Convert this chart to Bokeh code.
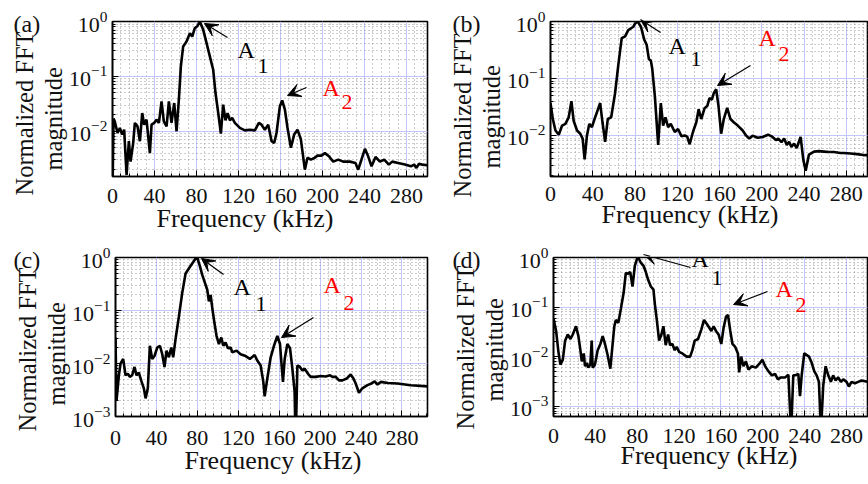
from bokeh.plotting import figure
from bokeh.layouts import column, row
from bokeh.models import Range1d, FixedTicker, Label, Arrow, VeeHead, Title
from bokeh.embed import file_html
from bokeh.resources import INLINE

# ---------------- data ----------------
FREQ_A = [0, 1.0, 2.2, 4.8, 7.0, 9.2, 11.1, 13.4, 15.6, 17.2, 19.7, 21.3, 23.8, 26.1, 28.3, 30.2, 32.4,
          35.6, 37.2, 39.7, 41.9, 44.2, 46.7, 48.9, 51.5, 53.7, 56.2, 58.8, 61.0, 63.2, 65.1, 67.3, 70.5,
          73.7, 75.9, 78.4, 81.0, 83.2, 86.4, 89.6, 92.7, 95.9, 98.1, 100.7, 103.2, 105.4, 107.6, 109.6,
          111.8, 114.0, 116.5, 121.3, 126.1, 130.8, 135.6, 139.4, 141.9, 145.1, 148.3, 151.5, 154.0,
          156.2, 159.4, 161.6, 164.2, 166.7, 169.9, 173.0, 176.2, 179.4, 183.2, 185.7, 188.9, 192.7,
          195.2, 199.0, 202.3, 206.1, 210.2, 215.0, 219.7, 226.1, 231.4, 234.0, 237.0, 240.4, 243.5,
          246.7, 250.5, 254.7, 258.8, 263.2, 266.4, 272.1, 278.5, 284.2, 287.3, 289.5, 291.8, 295.0, 300]
MAG_A = [0.0008, 0.017, 0.015, 0.0093, 0.0115, 0.0087, 0.0107, 0.0016, 0.0066, 0.0028, 0.0061, 0.0142,
         0.0123, 0.0066, 0.0215, 0.0132, 0.0163, 0.0040, 0.0132, 0.0142, 0.0163, 0.0142, 0.035, 0.0152,
         0.0123, 0.035, 0.0142, 0.0327, 0.0100, 0.0376, 0.152, 0.351, 0.432, 0.612, 0.533, 0.755, 0.83,
         1.0, 0.705, 0.403, 0.231, 0.132, 0.0498, 0.0215, 0.0091, 0.0305, 0.0158, 0.0215, 0.0158, 0.0175,
         0.0142, 0.0115, 0.0104, 0.0107, 0.0104, 0.0142, 0.0132, 0.0107, 0.0132, 0.0066, 0.0061, 0.0093,
         0.0285, 0.0366, 0.0247, 0.0115, 0.0050, 0.0087, 0.0107, 0.0071, 0.0020, 0.0033, 0.00305, 0.0033,
         0.0036, 0.0036, 0.0040, 0.0035, 0.0028, 0.00305, 0.0028, 0.0028, 0.00265, 0.0020, 0.0030,
         0.0048, 0.0035, 0.0023, 0.0034, 0.0028, 0.00305, 0.00247, 0.0028, 0.00265, 0.00247, 0.0023,
         0.00247, 0.00215, 0.00255, 0.00247, 0.0024]

FREQ_B = [0, 2.2, 4.7, 7.8, 11.0, 14.1, 17.2, 19.8, 21.9, 25.1, 28.2, 30.4, 32.3, 34.5, 36.7, 39.2, 41.7,
          44.9, 47.0, 49.2, 51.7, 54.2, 57.4, 61.1, 64.3, 67.4, 70.6, 73.7, 76.2, 78.4, 80.0, 82.5, 85.6,
          88.7, 91.0, 93.1, 95.0, 96.3, 98.8, 101.9, 104.4, 106.6, 108.8, 111.3, 113.8, 117.6, 120.7,
          123.9, 127.0, 129.5, 131.7, 134.8, 138.0, 140.2, 142.7, 145.8, 148.3, 150.5, 152.7, 154.5,
          156.8, 159.0, 161.5, 164.0, 167.2, 170.3, 173.4, 177.2, 181.9, 185.0, 188.1, 191.3, 196.0,
          200.7, 206.0, 210.1, 213.3, 215.5, 218.6, 221.1, 223.6, 225.8, 228.0, 230.5, 233.0, 236.7,
          239.2, 241.5, 244.6, 249.4, 254.0, 258.8, 263.4, 268.1, 274.4, 277.6, 283.8, 290.1, 297.9, 300]
MAG_B = [0.037, 0.0194, 0.0122, 0.0103, 0.0149, 0.0159, 0.0207, 0.0398, 0.0181, 0.0122, 0.0107, 0.0088,
         0.0038, 0.0100, 0.0159, 0.0140, 0.0194, 0.0287, 0.037, 0.017, 0.0077, 0.0194, 0.0207, 0.055,
         0.18, 0.51, 0.55, 0.71, 0.76, 0.81, 0.92, 1.0, 0.81, 0.48, 0.39, 0.22, 0.204, 0.148, 0.048,
         0.0068, 0.037, 0.0149, 0.0207, 0.014, 0.0159, 0.0115, 0.013, 0.0097, 0.0100, 0.0094, 0.0070,
         0.0115, 0.0170, 0.0287, 0.0194, 0.030, 0.0327, 0.045, 0.0425, 0.055, 0.0645, 0.0327, 0.0107,
         0.0194, 0.0306, 0.0194, 0.017, 0.0149, 0.0122, 0.0100, 0.0088, 0.0099, 0.0091, 0.0094, 0.0103,
         0.0094, 0.0083, 0.0088, 0.0076, 0.0088, 0.0068, 0.0077, 0.0063, 0.0072, 0.0060, 0.0094, 0.0038,
         0.0024, 0.0046, 0.0052, 0.0053, 0.0052, 0.0051, 0.0051, 0.0049, 0.0049, 0.0048, 0.0047, 0.0045,
         0.0045]

FREQ_C = [0, 1.0, 3.3, 4.9, 7.5, 9.8, 12.1, 14.0, 16.3, 18.6, 20.5, 22.8, 25.1, 27.7, 29.4, 31.6, 33.6,
          35.9, 38.2, 40.8, 43.4, 45.7, 47.9, 49.9, 52.2, 54.5, 56.4, 58.7, 62.0, 65.2, 68.5, 71.7, 75.0,
          78.3, 79.9, 82.5, 84.8, 87.1, 89.7, 91.3, 93.0, 94.6, 96.2, 98.8, 101.1, 103.4, 105.4, 107.6,
          109.9, 112.5, 114.2, 118.4, 122.3, 127.2, 131.4, 136.0, 138.6, 141.9, 144.5, 145.8, 148.4,
          151.7, 154.9, 158.2, 160.8, 162.4, 163.7, 165.4, 168.0, 170.6, 172.9, 175.1, 176.1, 177.8,
          180.3, 182.7, 184.9, 188.2, 190.8, 195.7, 200.6, 205.5, 209.7, 212.0, 215.3, 218.5, 221.8,
          226.0, 229.9, 232.6, 234.8, 238.0, 241.3, 246.3, 250.2, 253.4, 256.1, 259.3, 262.5, 266.4,
          275.6, 288.6, 305]
MAG_C = [0.031, 0.0020, 0.006, 0.0099, 0.0122, 0.006, 0.0064, 0.0056, 0.006, 0.0086, 0.006, 0.0067,
         0.0048, 0.0034, 0.0022, 0.0034, 0.0216, 0.0122, 0.014, 0.020, 0.0216, 0.015, 0.0086, 0.0175,
         0.0131, 0.020, 0.0131, 0.0288, 0.078, 0.213, 0.50, 0.62, 0.77, 0.96, 1.0, 0.69, 0.47, 0.347,
         0.246, 0.149, 0.196, 0.112, 0.068, 0.033, 0.0233, 0.031, 0.0216, 0.025, 0.0194, 0.020, 0.0163,
         0.0175, 0.015, 0.0138, 0.0122, 0.0145, 0.0114, 0.0092, 0.0045, 0.0024, 0.0052, 0.0131, 0.0216,
         0.033, 0.0233, 0.0092, 0.0045, 0.0122, 0.0233, 0.0194, 0.008, 0.0029, 0.0003, 0.0092, 0.0086,
         0.0074, 0.008, 0.0064, 0.0056, 0.0056, 0.0058, 0.0057, 0.006, 0.0056, 0.0056, 0.0048, 0.0048,
         0.0052, 0.0062, 0.0052, 0.0042, 0.0028, 0.0034, 0.0039, 0.0042, 0.0046, 0.0040, 0.0045, 0.0044,
         0.0043, 0.0042, 0.0039, 0.0037]

FREQ_D = [0, 2.5, 4.7, 6.6, 8.9, 11.1, 13.6, 16.2, 18.4, 21.5, 23.8, 25.7, 27.0, 28.9, 30.1, 32.0, 33.3,
          35.2, 36.5, 37.4, 39.6, 42.2, 44.8, 47.0, 49.2, 51.7, 54.3, 56.5, 58.1, 59.6, 61.9, 64.4, 67.0,
          69.1, 71.4, 73.3, 75.5, 77.7, 79.6, 80.9, 83.4, 86.0, 88.2, 90.5, 93.0, 95.5, 96.8, 98.7, 100.9,
          103.1, 105.0, 107.2, 109.5, 111.4, 113.6, 115.8, 117.7, 120.0, 123.1, 127.2, 130.5, 132.7,
          134.9, 138.1, 141.2, 143.8, 147.0, 150.8, 153.0, 155.2, 157.7, 160.3, 162.5, 164.8, 166.7,
          168.9, 171.0, 173.6, 176.2, 177.4, 179.3, 181.5, 183.8, 186.3, 189.5, 193.3, 197.4, 199.6,
          202.2, 205.3, 208.6, 211.7, 214.3, 217.4, 221.2, 224.4, 227.0, 229.1, 230.8, 233.9, 235.5,
          237.1, 239.6, 241.9, 244.1, 246.7, 249.1, 251.4, 253.6, 255.5, 257.7, 260.0, 262.5, 265.0,
          267.2, 269.5, 272.0, 274.6, 276.8, 280.0, 282.2, 284.8, 287.9, 291.1, 294.3, 300]
MAG_D = [0.059, 0.033, 0.0125, 0.0069, 0.0087, 0.021, 0.028, 0.0227, 0.028, 0.041, 0.026, 0.0135, 0.008,
         0.0116, 0.0064, 0.0075, 0.006, 0.0069, 0.021, 0.006, 0.0069, 0.0135, 0.018, 0.026, 0.018, 0.0108,
         0.0057, 0.018, 0.041, 0.055, 0.048, 0.093, 0.194, 0.487, 0.47, 0.51, 0.26, 0.68, 0.92, 1.0, 0.79,
         0.68, 0.51, 0.35, 0.26, 0.225, 0.116, 0.055, 0.021, 0.028, 0.041, 0.017, 0.028, 0.017, 0.018,
         0.0135, 0.0157, 0.0125, 0.0116, 0.010, 0.010, 0.0135, 0.021, 0.0227, 0.035, 0.055, 0.044, 0.033,
         0.041, 0.033, 0.028, 0.018, 0.038, 0.064, 0.069, 0.033, 0.018, 0.0157, 0.0116, 0.0048, 0.010,
         0.0064, 0.008, 0.0055, 0.0064, 0.006, 0.0075, 0.0087, 0.0064, 0.0051, 0.0042, 0.0045, 0.0035,
         0.0038, 0.0038, 0.0043, 0.0003, 0.0042, 0.0042, 0.0045, 0.0016, 0.0042, 0.0117, 0.0108, 0.010,
         0.0075, 0.0051, 0.0042, 0.0031, 0.0003, 0.0026, 0.0064, 0.0042, 0.0031, 0.0042, 0.0033, 0.0038,
         0.0031, 0.0035, 0.0031, 0.0025, 0.0031, 0.0029, 0.0031, 0.0033, 0.0031]

X_TICKS = [0, 40, 80, 120, 160, 200, 240, 280]
X_MINOR = list(range(0, 312, 8))
Y_TICKS_AB = [0.01, 0.1, 1.0]
Y_TICKS_CD = [0.001, 0.01, 0.1, 1.0]
Y_MINOR = [m * 10.0 ** e for e in (-4, -3, -2, -1) for m in range(1, 10)] + [1.0]

PANEL_LETTERS = ["(a)", "(b)", "(c)", "(d)"]
X_LABEL = "Frequency (kHz)"
Y_LABEL_LINES = ["Normalized FFT", "magnitude"]

FONT = "Liberation Serif"
TXT = "#111111"

# layout per panel: frame borders, label offsets (pixels), annotation positions
# (annotation positions in screen pixels relative to the plot frame, x right, y up)
PANELS = [
    dict(borders=(112, 7, 19, 66), letter=-99, tick_sd=12, xl_off=44, xl_sd=-4, yl_off=(-19, 6),
         t1=(92, 153), s1=(115, 139), a1=(125, 114), b1=(145, 104),
         t2=(175, 81), s2=(194, 89), a2=(210, 76), b2=(229, 68)),
    dict(borders=(116, 1, 21, 61), letter=-98, tick_sd=10, xl_off=51, xl_sd=-7, yl_off=(-21, 8),
         t1=(90, 157), s1=(110, 144), a1=(118, 118), b1=(140, 111),
         t2=(167, 91), s2=(200, 111), a2=(208, 126), b2=(228, 116)),
    dict(borders=(115, 7, 13, 68), letter=-102, tick_sd=14, xl_off=69, xl_sd=-4, yl_off=(-15, 11),
         t1=(86, 158), s1=(108, 142), a1=(118, 117), b1=(140, 106),
         t2=(166, 79), s2=(198, 99), a2=(208, 119), b2=(228, 107)),
    dict(borders=(119, 1, 15, 60), letter=-101, tick_sd=12, xl_off=67, xl_sd=-9, yl_off=(-13, 15),
         t1=(90, 162), s1=(137, 149), a1=(138, 145), b1=(158, 132),
         t2=(180, 112), s2=(214, 125), a2=(222, 115), b2=(242, 105)),
]


def make_panel(freq, mag, x_end, y_start, y_ticks, letter, cfg):
    left, right, top, bottom = cfg["borders"]
    p = figure(width=434, height=242, x_range=Range1d(0, x_end), y_range=Range1d(y_start, 1.0),
               y_axis_type="log", output_backend="svg", toolbar_location=None,
               min_border_left=left, min_border_right=right, min_border_top=top,
               min_border_bottom=bottom, background_fill_color="white", border_fill_color="white")
    p.outline_line_color = "black"
    p.outline_line_width = 1.6
    p.outline_line_alpha = 1.0

    # panel letter: left-aligned title pulled down onto the frame's top edge
    p.title.text = letter
    p.title.align = "left"
    p.title.offset = cfg["letter"]
    p.title.text_font = FONT
    p.title.text_font_size = "24px"
    p.title.text_font_style = "normal"
    p.title.text_color = TXT
    p.title.vertical_align = "bottom"
    p.title.standoff = -30

    xt = FixedTicker(ticks=X_TICKS, minor_ticks=X_MINOR)
    yt = FixedTicker(ticks=y_ticks, minor_ticks=Y_MINOR)
    p.xaxis.ticker = xt
    p.yaxis.ticker = yt
    p.xgrid.ticker = xt
    p.ygrid.ticker = yt

    p.grid.grid_line_color = "#c4c4ff"
    p.grid.grid_line_width = 1
    p.grid.minor_grid_line_color = "#9a9a9a"
    p.grid.minor_grid_line_dash = "1 3"
    p.grid.minor_grid_line_width = 1

    p.axis.axis_line_color = "black"
    p.axis.axis_line_width = 1.6
    p.axis.major_tick_in = 6
    p.axis.major_tick_out = 0
    p.axis.minor_tick_in = 3
    p.axis.minor_tick_out = 0
    p.axis.major_tick_line_color = "black"
    p.axis.minor_tick_line_color = "black"
    p.axis.major_label_text_font = FONT
    p.axis.major_label_text_font_size = "22px"
    p.axis.major_label_text_color = TXT
    p.xaxis.major_label_standoff = cfg["tick_sd"]
    p.yaxis.major_label_standoff = 5

    # axis titles (placed as side titles so they can be offset like the original)
    yl_outer, yl_inner = cfg["yl_off"]
    p.add_layout(Title(text=Y_LABEL_LINES[1], align="left", offset=yl_inner, standoff=0,
                       text_font=FONT, text_font_size="24.5px", text_font_style="normal",
                       text_color=TXT, vertical_align="bottom"), "left")
    p.add_layout(Title(text=Y_LABEL_LINES[0], align="left", offset=yl_outer, standoff=0,
                       text_font=FONT, text_font_size="24.5px", text_font_style="normal",
                       text_color=TXT, vertical_align="bottom"), "left")
    p.add_layout(Title(text=X_LABEL, align="left", offset=cfg["xl_off"], standoff=cfg["xl_sd"],
                       text_font=FONT, text_font_size="26px", text_font_style="normal",
                       text_color=TXT, vertical_align="top"), "below")

    p.line(freq, mag, line_color="black", line_width=2.6)

    for tip, tail, apos, bpos, sub, col in ((cfg["t1"], cfg["s1"], cfg["a1"], cfg["b1"], "1", "black"),
                                           (cfg["t2"], cfg["s2"], cfg["a2"], cfg["b2"], "2", "#ff0000")):
        p.add_layout(Arrow(end=VeeHead(size=13, fill_color="black", line_color="black", line_width=1),
                           x_start=tail[0], y_start=tail[1], x_end=tip[0], y_end=tip[1],
                           start_units="screen", end_units="screen",
                           line_color="black", line_width=1.2))
        p.add_layout(Label(x=apos[0], y=apos[1], x_units="screen", y_units="screen", text="A",
                           text_font=FONT, text_font_size="24px", text_color=col))
        p.add_layout(Label(x=bpos[0], y=bpos[1], x_units="screen", y_units="screen", text=sub,
                           text_font=FONT, text_font_size="22px", text_color=col))
    return p


pa = make_panel(FREQ_A, MAG_A, 300, 1.5e-3, Y_TICKS_AB, PANEL_LETTERS[0], PANELS[0])
pb = make_panel(FREQ_B, MAG_B, 300, 1.9e-3, Y_TICKS_AB, PANEL_LETTERS[1], PANELS[1])
pc = make_panel(FREQ_C, MAG_C, 305, 1.0e-3, Y_TICKS_CD, PANEL_LETTERS[2], PANELS[2])
pd = make_panel(FREQ_D, MAG_D, 300, 6.2e-4, Y_TICKS_CD, PANEL_LETTERS[3], PANELS[3])

layout = column(row(pa, pb, spacing=0), row(pc, pd, spacing=0), spacing=0)

open("out.html", "w").write(file_html(layout, INLINE))
